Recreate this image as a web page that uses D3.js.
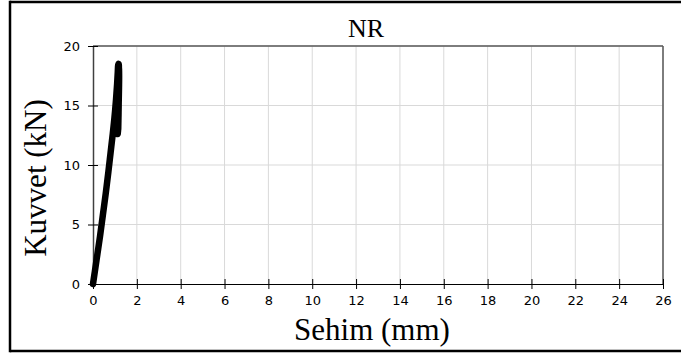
<!DOCTYPE html>
<html><head><meta charset="utf-8">
<script src="https://cdn.jsdelivr.net/npm/d3@7"></script>
<style>body{margin:0;background:#fff}svg{display:block}</style>
</head><body>
<script>
const title = "NR";
const xLabel = "Sehim (mm)";
const yLabel = "Kuvvet (kN)";
const xTicks = [0,2,4,6,8,10,12,14,16,18,20,22,24,26];
const yTicks = [0,5,10,15,20];
const sehim  = [0,0.08,0.2,0.32,0.45,0.58,0.7,0.8,0.9,0.98,1.05,1.1,1.13,1.15,1.17,1.17,1.15,1.13,1.12,1.14,1.16,1.17,1.16,1.14,1.13,1.14,1.16,1.18,1.17,1.15];
const kuvvet = [0,1,2.5,4,5.8,7.6,9.4,11,12.6,14,15.5,16.8,17.8,18.4,18.5,16.5,14,12.6,13.5,16,18.2,18.4,15.5,12.8,14,16.5,18.3,18.2,15,13];

const W=681,H=356;
const m={l:93,r:18,t:46,b:72};
const svg=d3.select("body").append("svg").attr("width",W).attr("height",H);
// outer frame (left, top, bottom visible)
const fr=svg.append("g").attr("stroke","#000").attr("stroke-width",2.5);
fr.append("line").attr("x1",10).attr("x2",W+5).attr("y1",2).attr("y2",2);
fr.append("line").attr("x1",10).attr("x2",W+5).attr("y1",351).attr("y2",351);
fr.append("line").attr("x1",10).attr("x2",10).attr("y1",0.75).attr("y2",352.25);

const x=d3.scaleLinear().domain([0,26]).range([m.l,W-m.r]);
const y=d3.scaleLinear().domain([0,20]).range([H-m.b,m.t]);

const g=svg.append("g");
g.selectAll(".vx").data(xTicks.slice(1)).enter().append("line")
  .attr("x1",d=>x(d)).attr("x2",d=>x(d)).attr("y1",y(0)).attr("y2",y(20))
  .attr("stroke","#d9d9d9").attr("stroke-width",1);
g.selectAll(".hy").data(yTicks.slice(1)).enter().append("line")
  .attr("y1",d=>y(d)).attr("y2",d=>y(d)).attr("x1",x(0)).attr("x2",x(26))
  .attr("stroke","#d9d9d9").attr("stroke-width",1);
g.append("line").attr("x1",x(0)).attr("x2",x(26)).attr("y1",y(20)).attr("y2",y(20)).attr("stroke","#595959").attr("stroke-width",1.5);
g.append("line").attr("x1",x(26)).attr("x2",x(26)).attr("y1",y(20)).attr("y2",y(0)).attr("stroke","#595959").attr("stroke-width",1.5);

const xAxis=d3.axisBottom(x).tickValues(xTicks).tickSize(0).tickPadding(12);
const xa=g.append("g").attr("transform",`translate(0,${y(0)})`).call(xAxis);
xa.select(".domain").attr("stroke","#000").attr("stroke-width",1.2);
xa.selectAll(".tick").append("line").attr("y1",-5).attr("y2",5).attr("stroke","#000");
xa.selectAll("text").attr("font-family","DejaVu Sans").attr("font-size",13).attr("fill","#000");

const yAxis=d3.axisLeft(y).tickValues(yTicks).tickSize(0).tickPadding(13);
const ya=g.append("g").attr("transform",`translate(${x(0)},0)`).call(yAxis);
ya.select(".domain").attr("stroke","#404040").attr("stroke-width",1.5);
ya.selectAll(".tick").append("line").attr("x1",-5).attr("x2",5).attr("stroke","#000");
ya.selectAll("text").attr("font-family","DejaVu Sans").attr("font-size",13).attr("fill","#000");

const pts=sehim.map((v,i)=>[v,kuvvet[i]]);
g.append("path").datum(pts)
  .attr("d",d3.line().x(d=>x(d[0])).y(d=>y(d[1])).curve(d3.curveCatmullRom))
  .attr("fill","none").attr("stroke","#000").attr("stroke-width",6.5)
  .attr("stroke-linejoin","round").attr("stroke-linecap","round");

svg.append("text").attr("x",366).attr("y",37).attr("text-anchor","middle")
  .attr("font-family","Liberation Serif").attr("font-size",26).text(title);
svg.append("text").attr("x",372).attr("y",340).attr("text-anchor","middle")
  .attr("font-family","Liberation Serif").attr("font-size",31).text(xLabel);
svg.append("text").attr("transform","translate(46,178) rotate(-90)").attr("text-anchor","middle")
  .attr("font-family","Liberation Serif").attr("font-size",31).text(yLabel);
</script>
</body></html>
